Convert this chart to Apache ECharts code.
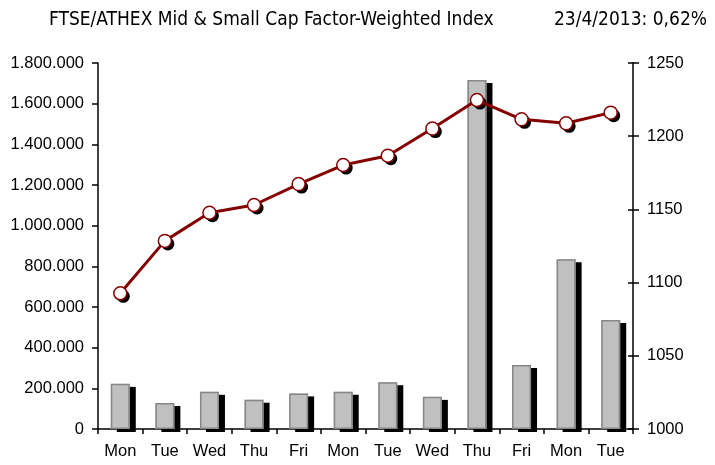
<!DOCTYPE html>
<html>
<head>
<meta charset="utf-8">
<script src="https://cdn.jsdelivr.net/npm/echarts@6/dist/echarts.min.js"></script>
<style>
  html, body { margin: 0; padding: 0; background: #fff; }
  #main { width: 715px; height: 465px; }
</style>
</head>
<body>
<div id="main"></div>
<script>
var days = ['Mon', 'Tue', 'Wed', 'Thu', 'Fri', 'Mon', 'Tue', 'Wed', 'Thu', 'Fri', 'Mon', 'Tue'];
var volume = [222000, 128000, 183000, 144000, 175000, 183000, 230000, 158000, 1716000, 315000, 835000, 536000];
var indexValues = [1092.7, 1128.5, 1147.7, 1153, 1167.3, 1180.3, 1186.7, 1205.2, 1224.7, 1211.5, 1208.8, 1216.1];
var titleText = 'FTSE/ATHEX Mid & Small Cap Factor-Weighted Index';
var dateText = '23/4/2013: 0,62%';

function dots(v) {
    return String(v).replace(/\B(?=(\d{3})+(?!\d))/g, '.');
}

var chart = echarts.init(document.getElementById('main'));
var font = 'Liberation Sans, Arial, sans-serif';
var narrow = 'DejaVu Sans Condensed, Liberation Sans Narrow, sans-serif';

chart.setOption({
    animation: false,
    title: [
        { text: titleText, left: 44, top: 6, textStyle: { fontFamily: narrow, fontSize: 19, fontWeight: 'normal', color: '#000' } },
        { text: dateText, right: 3, top: 6, textStyle: { fontFamily: narrow, fontSize: 19, fontWeight: 'normal', color: '#000' } }
    ],
    grid: { left: 98, right: 82, top: 63, bottom: 36 },
    xAxis: {
        type: 'category',
        data: days,
        boundaryGap: true,
        axisLine: { lineStyle: { color: '#000', width: 1.5 } },
        axisTick: { show: true, length: 5, lineStyle: { color: '#000', width: 1.5 } },
        axisLabel: { color: '#000', fontFamily: font, fontSize: 16.5, margin: 14 }
    },
    yAxis: [
        {
            type: 'value', min: 0, max: 1800000, interval: 200000, position: 'left',
            splitLine: { show: false },
            axisLine: { show: true, lineStyle: { color: '#000', width: 1.5 } },
            axisTick: { show: true, length: 6, lineStyle: { color: '#000', width: 1.5 } },
            axisLabel: { color: '#000', fontFamily: font, fontSize: 16.5, margin: 14, formatter: dots }
        },
        {
            type: 'value', min: 1000, max: 1250, interval: 50, position: 'right',
            splitLine: { show: false },
            axisLine: { show: true, lineStyle: { color: '#000', width: 1.5 } },
            axisTick: { show: true, length: 6, lineStyle: { color: '#000', width: 1.5 } },
            axisLabel: { color: '#000', fontFamily: font, fontSize: 16.5, margin: 14, formatter: function (v) { return String(v); } }
        },
        {
            type: 'value', min: 1000, max: 1250, interval: 50, position: 'right',
            splitLine: { show: false },
            axisLine: { show: false },
            axisTick: { show: true, inside: true, length: 5, lineStyle: { color: '#000', width: 1.5 } },
            axisLabel: { show: false }
        }
    ],
    series: [
        {
            // filled bars with the black drop shadow
            type: 'bar',
            data: volume,
            yAxisIndex: 0,
            barWidth: 19,
            itemStyle: {
                color: '#c0c0c0',
                shadowColor: '#000',
                shadowBlur: 0,
                shadowOffsetX: 6,
                shadowOffsetY: 3
            }
        },
        {
            // gray outline over the bars, no shadow
            type: 'bar',
            data: volume,
            yAxisIndex: 0,
            barWidth: 19,
            barGap: '-100%',
            itemStyle: { color: 'rgba(0,0,0,0)', borderColor: '#878787', borderWidth: 1.5 }
        },
        {
            // marker shadows
            type: 'line',
            data: indexValues,
            yAxisIndex: 1,
            z: 4,
            symbol: 'circle',
            symbolSize: 13,
            symbolOffset: [3, 3],
            lineStyle: { width: 0, opacity: 0 },
            itemStyle: { color: '#000' }
        },
        {
            type: 'line',
            data: indexValues,
            yAxisIndex: 1,
            z: 5,
            symbol: 'circle',
            symbolSize: 13,
            lineStyle: { color: '#850000', width: 3 },
            itemStyle: { color: '#fff', borderColor: '#850000', borderWidth: 1.5 }
        }
    ]
});
</script>
</body>
</html>
